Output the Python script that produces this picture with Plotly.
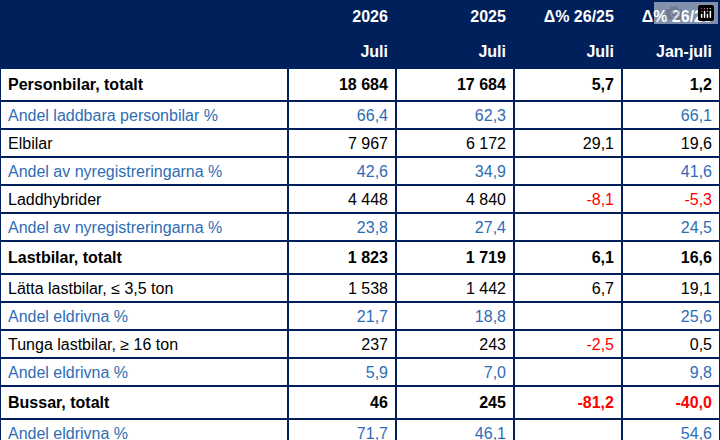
import plotly.graph_objects as go

labels = ["Personbilar, totalt", "Andel laddbara personbilar %", "Elbilar",
          "Andel av nyregistreringarna %", "Laddhybrider", "Andel av nyregistreringarna %",
          "Lastbilar, totalt", "Lätta lastbilar, ≤ 3,5 ton", "Andel eldrivna %",
          "Tunga lastbilar, ≥ 16 ton", "Andel eldrivna %", "Bussar, totalt", "Andel eldrivna %"]
y2026 = ["18 684", "66,4", "7 967", "42,6", "4 448", "23,8", "1 823", "1 538", "21,7", "237", "5,9", "46", "71,7"]
y2025 = ["17 684", "62,3", "6 172", "34,9", "4 840", "27,4", "1 719", "1 442", "18,8", "243", "7,0", "245", "46,1"]
d_juli = ["5,7", "", "29,1", "", "-8,1", "", "6,1", "6,7", "", "-2,5", "", "-81,2", ""]
d_jan = ["1,2", "66,1", "19,6", "41,6", "-5,3", "24,5", "16,6", "19,1", "25,6", "0,5", "9,8", "-40,0", "54,6"]
head1 = ["", "2026", "2025", "Δ% 26/25", "Δ% 26/25"]
head2 = ["", "Juli", "Juli", "Juli", "Jan-juli"]

NAVY = "#00205B"
BLUE = "#2E6DB4"
RED = "#FF0000"
bold_rows = {0, 6, 11}

cols = [labels, y2026, y2025, d_juli, d_jan]
values, colors, fills = [], [], []
for ci, col in enumerate(cols):
    v = ["<b>%s</b>" % head2[ci]]
    c = ["white"]
    for ri, s in enumerate(col):
        v.append("<b>%s</b>" % s if ri in bold_rows and s else s)
        if s.startswith("-"):
            c.append(RED)
        elif labels[ri].startswith("Andel"):
            c.append(BLUE)
        else:
            c.append("black")
    values.append(v)
    colors.append(c)
    fills.append([NAVY] + ["white"] * len(col))

fig = go.Figure(go.Table(
    columnwidth=[288, 108, 118, 108, 98],
    header=dict(values=["<b>%s</b>" % h for h in head1], fill_color=NAVY,
                line=dict(color=NAVY, width=1.5), align=["left"] + ["right"] * 4,
                font=dict(color="white", size=16, family="Liberation Sans"), height=35),
    cells=dict(values=values, fill_color=fills, line=dict(color=NAVY, width=1.5),
               align=["left"] + ["right"] * 4,
               font=dict(color=colors, size=16, family="Liberation Sans"), height=28),
    domain=dict(x=[0, 1], y=[0, 1]),
))
fig.update_layout(width=720, height=440, margin=dict(l=0, r=0, t=0, b=0), paper_bgcolor="white")
fig.write_html("out.html", post_script="document.body.style.margin='0';")
